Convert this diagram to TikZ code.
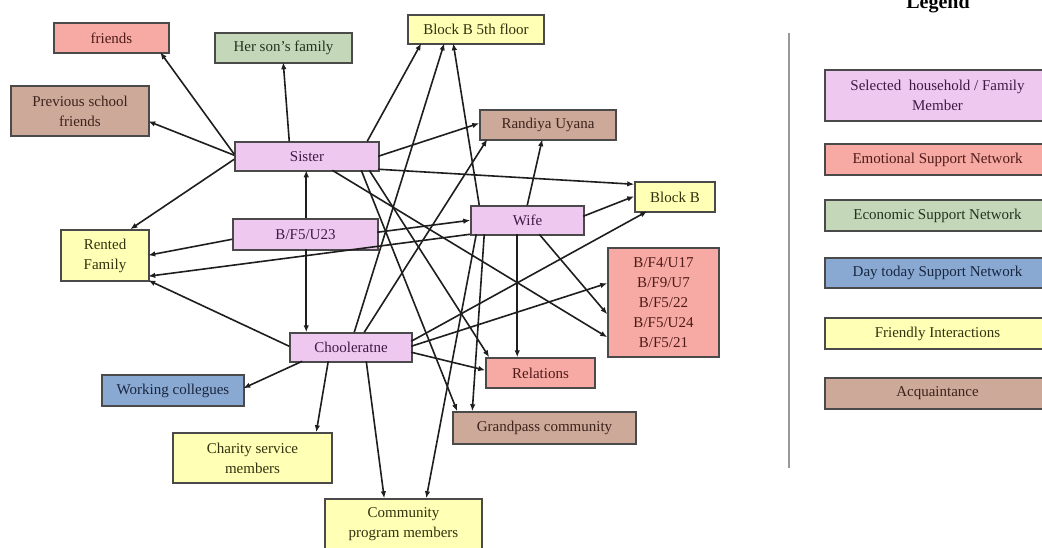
\documentclass[tikz,border=0pt]{standalone}
\usepackage{fontspec}
\setmainfont{Liberation Serif}
\usetikzlibrary{arrows.meta}

\definecolor{pinkF}{HTML}{EEC8EF}\definecolor{pinkT}{HTML}{3E1A45}
\definecolor{salF}{HTML}{F7AAA4}\definecolor{salT}{HTML}{4E1A18}
\definecolor{grnF}{HTML}{C4D8B9}\definecolor{grnT}{HTML}{26321F}
\definecolor{bluF}{HTML}{8AA9D2}\definecolor{bluT}{HTML}{18263F}
\definecolor{yelF}{HTML}{FFFFB5}\definecolor{yelT}{HTML}{32320E}
\definecolor{brnF}{HTML}{CCA999}\definecolor{brnT}{HTML}{3E221B}
\definecolor{edgeC}{HTML}{4A4A4A}
\definecolor{lineC}{HTML}{1E1E1E}

\tikzset{
  box/.style={draw=edgeC, line width=1.5pt, inner sep=0pt, align=center,
    font=\fontsize{15}{20}\selectfont},
  member/.style={box, fill=pinkF, text=pinkT},
  emotional/.style={box, fill=salF, text=salT},
  economic/.style={box, fill=grnF, text=grnT},
  daily/.style={box, fill=bluF, text=bluT},
  friendly/.style={box, fill=yelF, text=yelT},
  acquaint/.style={box, fill=brnF, text=brnT},
  conn/.style={draw=lineC, line width=1.6pt, -{Latex[length=7pt,width=5.5pt]}},
}

\begin{document}
\begin{tikzpicture}[x=1pt,y=-1pt]
\useasboundingbox[fill=white] (0,0) rectangle (1042,547);

% ---- network nodes ----
\node[emotional, minimum width=115pt, minimum height=30pt] (fr) at (111.5,38) {friends};
\node[economic, minimum width=137pt, minimum height=30pt] (son) at (283.5,48) {Her son's family};
\node[acquaint, minimum width=138pt, minimum height=50pt] (prev) at (80,111) {Previous school\\friends};
\node[member, minimum width=144pt, minimum height=29pt] (sis) at (307,156.5) {Sister};
\node[friendly, minimum width=136pt, minimum height=29pt] (b5) at (476,29.5) {Block B 5th floor};
\node[acquaint, minimum width=136pt, minimum height=30pt] (ran) at (548,125) {Randiya Uyana};
\node[friendly, minimum width=80pt, minimum height=30pt] (bb) at (675,197) {Block B};
\node[member, minimum width=113pt, minimum height=29pt] (wife) at (527.5,220.5) {Wife};
\node[member, minimum width=145pt, minimum height=31pt] (u23) at (305.5,234.5) {B/F5/U23};
\node[friendly, minimum width=88pt, minimum height=51pt] (rent) at (105,255.5) {Rented\\Family};
\node[emotional, minimum width=111pt, minimum height=109pt] (bfx) at (663.5,302.5)
  {B/F4/U17\\B/F9/U7\\B/F5/22\\B/F5/U24\\B/F5/21};
\node[member, minimum width=122pt, minimum height=29pt] (chool) at (351,347.5) {Chooleratne};
\node[emotional, minimum width=109pt, minimum height=30pt] (rel) at (540.5,373) {Relations};
\node[daily, minimum width=142pt, minimum height=31pt] (work) at (173,390.5) {Working collegues};
\node[acquaint, minimum width=183pt, minimum height=32pt] (grand) at (544.5,428) {Grandpass community};
\node[friendly, minimum width=159pt, minimum height=50pt] (char) at (252.5,458) {Charity service\\members};
\node[friendly, minimum width=157pt, minimum height=50pt] (comm) at (403.5,524) {Community\\program members};

% ---- connectors from Sister ----
\draw[conn] ([shift={(0,13)}]sis.north west) -- ([shift={(107,30)}]fr.north west);
\draw[conn] ([shift={(55,0)}]sis.north west) -- ([shift={(69,30)}]son.north west);
\draw[conn] ([shift={(0,14)}]sis.north west) -- ([shift={(138,36)}]prev.north west);
\draw[conn] ([shift={(0,18)}]sis.north west) -- ([shift={(70,0)}]rent.north west);
\draw[conn] ([shift={(133,0)}]sis.north west) -- ([shift={(14,29)}]b5.north west);
\draw[conn] ([shift={(144,15)}]sis.north west) -- ([shift={(0,14)}]ran.north west);
\draw[conn] ([shift={(144,28)}]sis.north west) -- ([shift={(0,3)}]bb.north west);
\draw[conn] ([shift={(98,29)}]sis.north west) -- ([shift={(0,90)}]bfx.north west);
\draw[conn] ([shift={(127,29)}]sis.north west) -- ([shift={(5,0)}]grand.north west);
\draw[conn] ([shift={(135,29)}]sis.north west) -- ([shift={(4,0)}]rel.north west);

% ---- connectors from B/F5/U23 ----
\draw[conn] ([shift={(74,0)}]u23.north west) -- ([shift={(72,29)}]sis.north west);
\draw[conn] ([shift={(74,31)}]u23.north west) -- ([shift={(17,0)}]chool.north west);
\draw[conn] ([shift={(0,21)}]u23.north west) -- ([shift={(88,26)}]rent.north west);
\draw[conn] ([shift={(145,14)}]u23.north west) -- ([shift={(0,15)}]wife.north west);

% ---- connectors from Wife ----
\draw[conn] ([shift={(0,29)}]wife.north west) -- ([shift={(88,47)}]rent.north west);
\draw[conn] ([shift={(9,0)}]wife.north west) -- ([shift={(46,29)}]b5.north west);
\draw[conn] ([shift={(57,0)}]wife.north west) -- ([shift={(63,30)}]ran.north west);
\draw[conn] ([shift={(113,11)}]wife.north west) -- ([shift={(0,15)}]bb.north west);
\draw[conn] ([shift={(69,29)}]wife.north west) -- ([shift={(0,67)}]bfx.north west);
\draw[conn] ([shift={(47,29)}]wife.north west) -- ([shift={(32,0)}]rel.north west);
\draw[conn] ([shift={(14,29)}]wife.north west) -- ([shift={(20,0)}]grand.north west);
\draw[conn] ([shift={(6,29)}]wife.north west) -- ([shift={(102,0)}]comm.north west);

% ---- connectors from Chooleratne ----
\draw[conn] ([shift={(0,14)}]chool.north west) -- ([shift={(88,51)}]rent.north west);
\draw[conn] ([shift={(13,29)}]chool.north west) -- ([shift={(142,14)}]work.north west);
\draw[conn] ([shift={(39,29)}]chool.north west) -- ([shift={(144,0)}]char.north west);
\draw[conn] ([shift={(77,29)}]chool.north west) -- ([shift={(60,0)}]comm.north west);
\draw[conn] ([shift={(65,0)}]chool.north west) -- ([shift={(37,29)}]b5.north west);
\draw[conn] ([shift={(75,0)}]chool.north west) -- ([shift={(8,30)}]ran.north west);
\draw[conn] ([shift={(122,9)}]chool.north west) -- ([shift={(13,30)}]bb.north west);
\draw[conn] ([shift={(122,14)}]chool.north west) -- ([shift={(0,36)}]bfx.north west);
\draw[conn] ([shift={(122,20)}]chool.north west) -- ([shift={(0,13)}]rel.north west);

% ---- legend ----
\node[anchor=base, font=\fontsize{20}{24}\selectfont\bfseries, text=black] (legtitle) at (938,8) {Legend};
\draw[draw=gray!80, line width=2pt] (789,33) -- (789,468);
\node[member, minimum width=225pt, minimum height=51pt] (lg1) at (937.5,95.5) {Selected\ \ household / Family\\Member};
\node[emotional, minimum width=225pt, minimum height=31pt] (lg2) at (937.5,159.5) {Emotional Support Network};
\node[economic, minimum width=225pt, minimum height=31pt] (lg3) at (937.5,215.5) {Economic Support Network};
\node[daily, minimum width=225pt, minimum height=30pt] (lg4) at (937.5,273) {Day today Support Network};
\node[friendly, minimum width=225pt, minimum height=31pt] (lg5) at (937.5,333.5) {Friendly Interactions};
\node[acquaint, minimum width=225pt, minimum height=31pt] (lg6) at (937.5,393.5) {Acquaintance};
\end{tikzpicture}
\end{document}
